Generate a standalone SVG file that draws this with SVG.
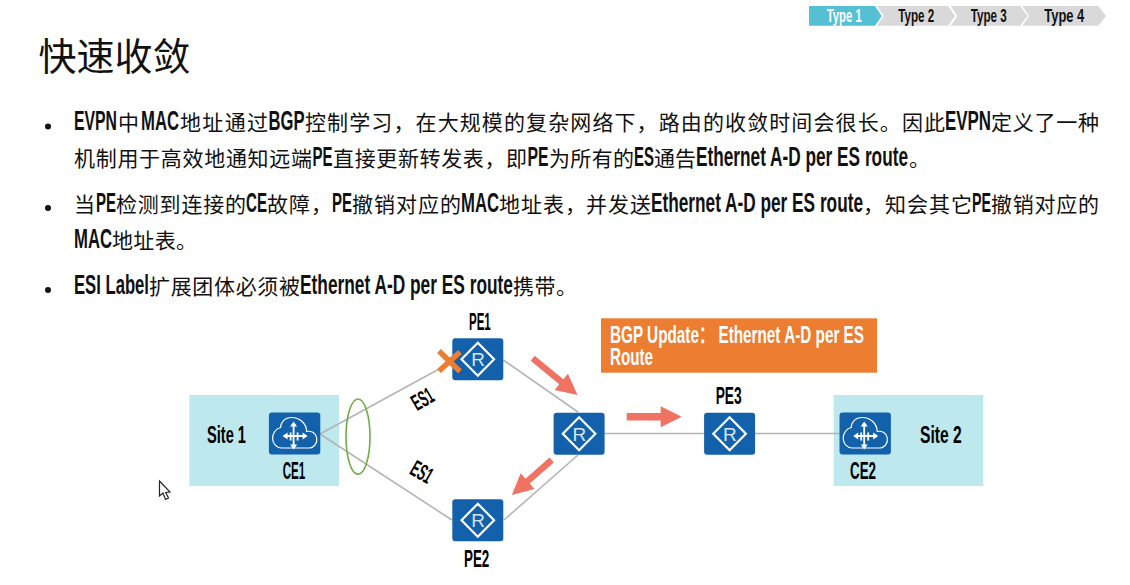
<svg xmlns="http://www.w3.org/2000/svg" xmlns:xlink="http://www.w3.org/1999/xlink" width="1130" height="585" viewBox="0 0 1130 585">
<style>
text{font-family:"Noto Sans CJK SC","Liberation Sans",sans-serif;fill:#111}
.body{font-size:21px}
.l{font-family:"Liberation Sans Narrow","Liberation Sans","Noto Sans CJK SC",sans-serif;font-size:27px;font-weight:700}
.lab{font-family:"Liberation Sans Narrow","Liberation Sans",sans-serif;font-size:23px;font-weight:700;fill:#000}
.tab{font-family:"Liberation Sans Narrow","Liberation Sans",sans-serif;font-size:19px;font-weight:700}
.box{fill:#1361ab}
.site{fill:#bde8ee}
.link{stroke:#b4b4b4;stroke-width:1.6;fill:none}
.flow{fill:#ef7263}
.ic{fill:none;stroke:#fff}
</style>
<defs>
<g id="router-icon">
<rect class="box" x="-25.5" y="-21" width="51" height="42" rx="3"/>
<path class="ic" stroke-width="2.2" d="M0,-16.5 L16.3,0 L0,16.5 L-16.3,0 Z"/>
<text x="-6.5" y="7" style="font-family:'Liberation Sans',sans-serif;font-size:19px;fill:#d6e6f5">R</text>
</g>
<g id="cloud-icon">
<rect class="box" x="-25.7" y="-21" width="51.4" height="42" rx="3"/>
<path class="ic" stroke-width="1.2" d="M-13,14.5 H14 C20,14.5 23,9 22,4 C21,-1 16,-3 12,-2 C12,-10 5,-16 -3,-16 C-10,-16 -14,-11 -14,-6 C-19,-5 -22,0 -22,5 C-22,10 -18,14.5 -13,14.5 Z"/>
<path class="ic" stroke-width="1.8" d="M-10,2.5 H11 M-1,-10 V14 M-4,-1 V7 M3,-1 V7"/>
<path d="M-12,2.5 L-7,-1 V6 Z M13,2.5 L8,-1 V6 Z M-1,-12 L-4.5,-7 H2.5 Z M-1,16 L-4.5,11 H2.5 Z" fill="#fff"/>
</g>
</defs>
<rect width="1130" height="585" fill="#fff"/>

<g id="tabs">
<polygon points="809,6 875,6 881.7,16 875,25.7 809,25.7" fill="#55c0d3"/>
<polygon points="877,6 948,6 955,16 948,25.7 877,25.7 883.7,16" fill="#d9d9d9"/>
<polygon points="950.7,6 1020,6 1027.7,16 1020,25.7 950.7,25.7 957.4,16" fill="#d9d9d9"/>
<polygon points="1022.3,6 1098.3,6 1106,16 1098.3,25.7 1022.3,25.7 1029,16" fill="#d9d9d9"/>
<text class="tab" x="826.7" y="22" textLength="35" lengthAdjust="spacingAndGlyphs" style="fill:#fff">Type 1</text>
<text class="tab" x="898.3" y="22" textLength="36" lengthAdjust="spacingAndGlyphs">Type 2</text>
<text class="tab" x="970.7" y="22" textLength="36" lengthAdjust="spacingAndGlyphs">Type 3</text>
<text class="tab" x="1044.3" y="22" textLength="40" lengthAdjust="spacingAndGlyphs">Type 4</text>
</g>

<text x="38.5" y="69.5" style="font-size:38px">快速收敛</text>

<g id="bullets">
<circle cx="48" cy="126.5" r="3" fill="#111"/>
<circle cx="48" cy="208" r="3" fill="#111"/>
<circle cx="48" cy="290" r="3" fill="#111"/>
<text class="body" y="130"><tspan class="l" x="74" textLength="43" lengthAdjust="spacingAndGlyphs">EVPN</tspan><tspan x="118" textLength="22">中</tspan><tspan class="l" x="141" textLength="38" lengthAdjust="spacingAndGlyphs">MAC</tspan><tspan x="180" textLength="88">地址通过</tspan><tspan class="l" x="268.5" textLength="36" lengthAdjust="spacingAndGlyphs">BGP</tspan><tspan x="305" textLength="640">控制学习，在大规模的复杂网络下，路由的收敛时间会很长。因此</tspan><tspan class="l" x="945" textLength="46" lengthAdjust="spacingAndGlyphs">EVPN</tspan><tspan x="991" textLength="108">定义了一种</tspan></text>
<text class="body" y="166"><tspan x="74" textLength="238">机制用于高效地通知远端</tspan><tspan class="l" x="312.5" textLength="20" lengthAdjust="spacingAndGlyphs">PE</tspan><tspan x="333" textLength="194">直接更新转发表，即</tspan><tspan class="l" x="527.5" textLength="21" lengthAdjust="spacingAndGlyphs">PE</tspan><tspan x="549" textLength="85">为所有的</tspan><tspan class="l" x="634" textLength="20" lengthAdjust="spacingAndGlyphs">ES</tspan><tspan x="654" textLength="42">通告</tspan><tspan class="l" x="696" textLength="212" lengthAdjust="spacingAndGlyphs">Ethernet A-D per ES route</tspan><tspan x="909">。</tspan></text>
<text class="body" y="212"><tspan x="74">当</tspan><tspan class="l" x="96" textLength="20" lengthAdjust="spacingAndGlyphs">PE</tspan><tspan x="116" textLength="130">检测到连接的</tspan><tspan class="l" x="246" textLength="21" lengthAdjust="spacingAndGlyphs">CE</tspan><tspan x="267" textLength="65">故障，</tspan><tspan class="l" x="332" textLength="20" lengthAdjust="spacingAndGlyphs">PE</tspan><tspan x="352" textLength="109">撤销对应的</tspan><tspan class="l" x="461" textLength="38" lengthAdjust="spacingAndGlyphs">MAC</tspan><tspan x="499" textLength="87">地址表，</tspan><tspan x="586" textLength="65">并发送</tspan><tspan class="l" x="651" textLength="212" lengthAdjust="spacingAndGlyphs">Ethernet A-D per ES route</tspan><tspan x="863" textLength="22">，</tspan><tspan x="885" textLength="87">知会其它</tspan><tspan class="l" x="972" textLength="19" lengthAdjust="spacingAndGlyphs">PE</tspan><tspan x="991" textLength="108">撤销对应的</tspan></text>
<text class="body" y="248"><tspan class="l" x="74" textLength="38" lengthAdjust="spacingAndGlyphs">MAC</tspan><tspan x="112" textLength="85">地址表。</tspan></text>
<text class="body" y="294"><tspan class="l" x="74" textLength="75" lengthAdjust="spacingAndGlyphs">ESI Label</tspan><tspan x="149" textLength="151">扩展团体必须被</tspan><tspan class="l" x="300" textLength="213" lengthAdjust="spacingAndGlyphs">Ethernet A-D per ES route</tspan><tspan x="513" textLength="64">携带。</tspan></text>
</g>

<rect id="site1" class="site" x="189.3" y="395" width="149.7" height="91"/>
<rect id="site2" class="site" x="833.7" y="395" width="149.6" height="91"/>
<text class="lab" x="207" y="443" textLength="39" lengthAdjust="spacingAndGlyphs">Site 1</text>
<text class="lab" x="920" y="443" textLength="41.7" lengthAdjust="spacingAndGlyphs">Site 2</text>

<g id="connectors">
<line class="link" x1="320" y1="434" x2="452" y2="362"/>
<line class="link" x1="320" y1="434" x2="452" y2="520"/>
<line class="link" x1="503.3" y1="360" x2="578" y2="412"/>
<line class="link" x1="504" y1="520" x2="578" y2="455"/>
<line class="link" x1="604" y1="433.5" x2="704" y2="433.5"/>
<line class="link" x1="755" y1="433.5" x2="840" y2="433.5"/>
</g>

<g id="CE1"><use xlink:href="#cloud-icon" href="#cloud-icon" transform="translate(294.6,433.5)"/><text class="lab" x="282.7" y="479" textLength="22.5" lengthAdjust="spacingAndGlyphs">CE1</text></g>
<g id="CE2"><use xlink:href="#cloud-icon" href="#cloud-icon" transform="translate(865.2,433.5)"/><text class="lab" x="850" y="479" textLength="26" lengthAdjust="spacingAndGlyphs">CE2</text></g>
<g id="PE1"><use xlink:href="#router-icon" href="#router-icon" transform="translate(477.8,359.3)"/><text class="lab" x="469" y="329.5" textLength="21.7" lengthAdjust="spacingAndGlyphs">PE1</text></g>
<g id="PE2"><use xlink:href="#router-icon" href="#router-icon" transform="translate(477.8,520.2)"/><text class="lab" x="464" y="567" textLength="25.3" lengthAdjust="spacingAndGlyphs">PE2</text></g>
<g id="PE3"><use xlink:href="#router-icon" href="#router-icon" transform="translate(729.6,433.7)"/><text class="lab" x="715.7" y="403.5" textLength="26" lengthAdjust="spacingAndGlyphs">PE3</text></g>
<g id="PE-center"><use xlink:href="#router-icon" href="#router-icon" transform="translate(579.1,433.7)"/></g>

<ellipse id="es-ring" cx="358" cy="436.7" rx="12" ry="37.7" fill="none" stroke="#70ad47" stroke-width="1.6"/>
<path id="fault" d="M439,351 L460,371.5 M460,352 L439,371" stroke="#ed7d31" stroke-width="5.5" fill="none"/>

<text class="lab" transform="translate(422.7,399.3) rotate(-30)" x="-11" y="7.5" textLength="22" lengthAdjust="spacingAndGlyphs">ES1</text>
<text class="lab" transform="translate(421.7,472.3) rotate(30)" x="-11" y="7.5" textLength="22" lengthAdjust="spacingAndGlyphs">ES1</text>

<g id="flow-arrows">
<polygon class="flow" transform="translate(532.7,358.3) rotate(39.4)" points="0,-3.2 37,-3.2 37,-10.5 58,0 37,10.5 37,3.2 0,3.2"/>
<polygon class="flow" transform="translate(551.7,460) rotate(138.8)" points="0,-3.2 32,-3.2 32,-10.5 53,0 32,10.5 32,3.2 0,3.2"/>
<polygon class="flow" transform="translate(626.7,416.7)" points="0,-3.7 34,-3.7 34,-10.5 55,0 34,10.5 34,3.7 0,3.7"/>
</g>

<g id="bgp-update">
<rect x="601" y="318.3" width="276" height="54.4" fill="#ed7d31"/>
<text x="610" y="343" style="font-family:'Liberation Sans Narrow','Liberation Sans','Noto Sans CJK SC',sans-serif;font-size:24px;font-weight:700;fill:#fff" textLength="254" lengthAdjust="spacingAndGlyphs">BGP Update： Ethernet A-D per ES</text>
<text x="610" y="365" style="font-family:'Liberation Sans Narrow','Liberation Sans',sans-serif;font-size:24px;font-weight:700;fill:#fff" textLength="43" lengthAdjust="spacingAndGlyphs">Route</text>
</g>

<path id="cursor" d="M159.5,481 V496 L163,493 L165.5,499.5 L168.5,498 L165.7,492.5 L170,492 Z" fill="#fff" stroke="#222" stroke-width="1.2"/>
</svg>
